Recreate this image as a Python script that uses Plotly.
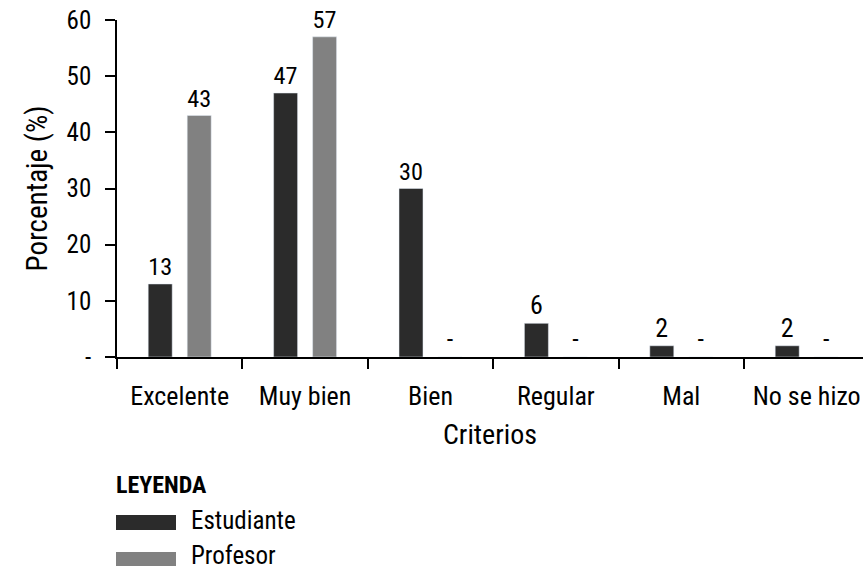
import plotly.graph_objects as go

# Survey results by rating criterion (percent of respondents)
criterios = ["Excelente", "Muy bien", "Bien", "Regular", "Mal", "No se hizo"]
estudiante = [13, 47, 30, 6, 2, 2]
profesor = [43, 57, 0, 0, 0, 0]
y_ticks = [0, 10, 20, 30, 40, 50, 60]
y_tick_text = ["-", "10", "20", "30", "40", "50", "60"]

FONT = "Roboto Condensed, DejaVu Sans Condensed, sans-serif"
DARK = "#2b2b2b"
GRAY = "#818181"


def bar_labels(values):
    return [str(v) if v > 0 else "-" for v in values]


fig = go.Figure()
for name, vals, color in [("Estudiante", estudiante, DARK), ("Profesor", profesor, GRAY)]:
    fig.add_trace(go.Bar(
        name=name, x=criterios, y=vals, marker_color=color,
        text=bar_labels(vals), textposition="outside", cliponaxis=False,
        textfont=dict(size=26, color="black", family=FONT), showlegend=False,
    ))

# Plot area in pixels (left, top, width, height)
L, T, W, H = 117, 20, 746, 337


def px_x(p):
    return (p - L) / W


def px_y(p):
    return (T + H - p) / H


# Custom legend: heading, long flat swatches, labels
legend_items = [("Estudiante", DARK, 515, 530, 520), ("Profesor", GRAY, 552, 566, 555)]
shapes = []
annotations = [dict(
    text="<b>LEYENDA</b>", xref="paper", yref="paper", x=px_x(114), y=px_y(485),
    xanchor="left", yanchor="middle", showarrow=False,
    font=dict(size=24, color="black", family=FONT),
)]
for label, color, top, bottom, cy in legend_items:
    shapes.append(dict(
        type="rect", xref="paper", yref="paper",
        x0=px_x(116), x1=px_x(176), y0=px_y(bottom), y1=px_y(top),
        fillcolor=color, line=dict(width=0),
    ))
    annotations.append(dict(
        text=label, xref="paper", yref="paper", x=px_x(189), y=px_y(cy),
        xanchor="left", yanchor="middle", showarrow=False,
        font=dict(size=25, color="black", family=FONT),
    ))

fig.update_layout(
    width=863, height=571,
    margin=dict(l=L, r=0, t=T, b=571 - T - H),
    plot_bgcolor="white", paper_bgcolor="white",
    barmode="group", bargap=0.378, bargroupgap=0.385,
    font=dict(family=FONT, color="black", size=26),
    shapes=shapes, annotations=annotations,
    xaxis=dict(
        range=[-0.5, 5.449], showline=True, linecolor="black", linewidth=1.5,
        ticks="outside", tickson="boundaries", ticklen=10, tickcolor="black",
        tickwidth=1.5, showgrid=False, tickfont=dict(size=26),
        ticklabelstandoff=15,
        title=dict(text="Criterios", font=dict(size=28), standoff=14),
    ),
    yaxis=dict(
        range=[0, 60], tickvals=y_ticks, ticktext=y_tick_text,
        showline=True, linecolor="black", linewidth=1.5,
        ticks="outside", ticklen=10, tickcolor="black", tickwidth=1.5,
        showgrid=False, zeroline=False, tickfont=dict(size=25),
        ticklabelstandoff=9,
        title=dict(text="Porcentaje (%)", font=dict(size=29), standoff=10),
    ),
)

fig.write_html("out.html")
